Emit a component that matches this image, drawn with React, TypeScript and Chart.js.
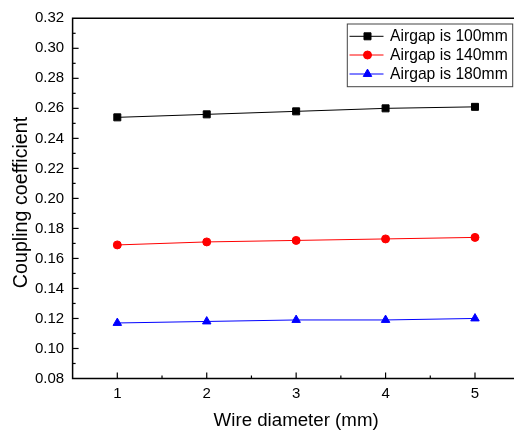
import React, { useEffect, useRef } from 'react';
import { Chart, registerables } from 'chart.js';

Chart.register(...registerables);

const categories = ['1', '2', '3', '4', '5'];
const airgap100 = [0.254, 0.256, 0.258, 0.26, 0.261];
const airgap140 = [0.169, 0.171, 0.172, 0.173, 0.174];
const airgap180 = [0.117, 0.118, 0.119, 0.119, 0.12];
const seriesLabels = ['Airgap is 100mm', 'Airgap is 140mm', 'Airgap is 180mm'];
const seriesColors = ['#000000', '#ff0000', '#0000ff'];
const seriesShapes = ['rect', 'circle', 'triangle'];
const seriesRadius = [4.95, 4, 4.9];
const yMin = 0.08;
const yMax = 0.32;
const yStep = 0.02;
const xTitle = 'Wire diameter (mm)';
const yTitle = 'Coupling coefficient';

const FONT = '"Liberation Sans", Arial, sans-serif';
const CW = 530;
const CH = 432;

function drawMarker(ctx: CanvasRenderingContext2D, shape: string, x: number, y: number, r: number, color: string) {
  ctx.save();
  ctx.fillStyle = color;
  ctx.strokeStyle = color;
  ctx.lineWidth = 1;
  ctx.beginPath();
  if (shape === 'rect') {
    const s = r * Math.SQRT1_2;
    ctx.rect(x - s, y - s, 2 * s, 2 * s);
  } else if (shape === 'circle') {
    ctx.arc(x, y, r, 0, Math.PI * 2);
  } else {
    ctx.moveTo(x, y - r);
    ctx.lineTo(x + Math.sin(Math.PI * 2 / 3) * r, y + r / 2);
    ctx.lineTo(x - Math.sin(Math.PI * 2 / 3) * r, y + r / 2);
    ctx.closePath();
  }
  ctx.fill();
  ctx.stroke();
  ctx.restore();
}

const framePlugin = {
  id: 'frame',
  afterDraw(chart: any) {
    const ctx: CanvasRenderingContext2D = chart.ctx;
    const { left, top, right, bottom } = chart.chartArea;
    const xs = chart.scales.x;
    const ys = chart.scales.y;
    ctx.save();
    ctx.strokeStyle = '#000';
    ctx.lineWidth = 1.5;
    ctx.beginPath();
    ctx.moveTo(CW, top);
    ctx.lineTo(left, top);
    ctx.lineTo(left, bottom);
    ctx.lineTo(CW, bottom);
    ctx.stroke();

    // y ticks (inward)
    ctx.lineWidth = 1.2;
    const n = Math.round((yMax - yMin) / (yStep / 2));
    for (let i = 1; i < n; i++) {
      const v = yMin + (i * yStep) / 2;
      const py = ys.getPixelForValue(v);
      const len = i % 2 === 0 ? 6 : 3;
      ctx.beginPath();
      ctx.moveTo(left, py);
      ctx.lineTo(left + len, py);
      ctx.stroke();
    }
    // x ticks (inward)
    for (let i = 0; i < categories.length; i++) {
      const px = xs.getPixelForValue(i);
      ctx.beginPath();
      ctx.moveTo(px, bottom);
      ctx.lineTo(px, bottom - 6);
      ctx.stroke();
      if (i < categories.length - 1) {
        const pm = (px + xs.getPixelForValue(i + 1)) / 2;
        ctx.beginPath();
        ctx.moveTo(pm, bottom);
        ctx.lineTo(pm, bottom - 3);
        ctx.stroke();
      }
    }

    // titles
    ctx.fillStyle = '#000';
    ctx.textAlign = 'center';
    ctx.textBaseline = 'middle';
    ctx.font = `18.7px ${FONT}`;
    ctx.fillText(xTitle, (left + right) / 2, 421);
    ctx.save();
    ctx.translate(21.5, 202.5);
    ctx.rotate(-Math.PI / 2);
    ctx.font = `19.7px ${FONT}`;
    ctx.fillText(yTitle, 0, 0);
    ctx.restore();

    // legend
    const bx = 347.3, by = 24, bw = 165.4, bh = 62.7;
    ctx.fillStyle = '#fff';
    ctx.fillRect(bx, by, bw, bh);
    ctx.strokeStyle = '#444';
    ctx.lineWidth = 1;
    ctx.strokeRect(bx, by, bw, bh);
    const rowsY = [36.3, 55, 74];
    chart.data.datasets.forEach((ds: any, i: number) => {
      const y = rowsY[i];
      ctx.strokeStyle = seriesColors[i];
      ctx.lineWidth = 1;
      ctx.beginPath();
      ctx.moveTo(349.5, y);
      ctx.lineTo(383.5, y);
      ctx.stroke();
      drawMarker(ctx, seriesShapes[i], 367.5, y, seriesRadius[i], seriesColors[i]);
      ctx.fillStyle = '#000';
      ctx.textAlign = 'left';
      ctx.textBaseline = 'middle';
      ctx.font = `15.7px ${FONT}`;
      ctx.fillText(ds.label, 390, y + 0.5);
    });
    ctx.restore();
  },
};

export default function App() {
  const ref = useRef<HTMLCanvasElement>(null);
  useEffect(() => {
    if (!ref.current) return;
    const series = [airgap100, airgap140, airgap180];
    const chart = new Chart(ref.current, {
      type: 'line',
      data: {
        labels: categories,
        datasets: series.map((d, i) => ({
          label: seriesLabels[i],
          data: d,
          borderColor: seriesColors[i],
          backgroundColor: seriesColors[i],
          borderWidth: 1,
          pointStyle: seriesShapes[i] as any,
          pointRadius: seriesRadius[i],
          pointBorderWidth: 1,
          pointBackgroundColor: seriesColors[i],
          pointBorderColor: seriesColors[i],
          tension: 0,
          fill: false,
        })),
      },
      options: {
        responsive: false,
        animation: false,
        devicePixelRatio: 1,
        layout: { padding: { top: 18.3, right: CW - 519.7, left: 0, bottom: 0 } },
        plugins: { legend: { display: false }, tooltip: { enabled: false }, title: { display: false } },
        scales: {
          x: {
            type: 'category',
            offset: true,
            grid: { display: false, drawTicks: false },
            border: { display: false },
            ticks: { color: '#000', font: { family: FONT, size: 15 }, padding: 6, maxRotation: 0 },
            afterFit: (s: any) => { s.height = CH - 378.5; },
          },
          y: {
            min: yMin,
            max: yMax,
            grid: { display: false, drawTicks: false },
            border: { display: false },
            ticks: {
              stepSize: yStep,
              color: '#000',
              font: { family: FONT, size: 15 },
              padding: 8.5,
              callback: (v: any) => Number(v).toFixed(2),
            },
            afterFit: (s: any) => { s.width = 72.6; },
          },
        },
      },
      plugins: [framePlugin],
    });
    return () => chart.destroy();
  }, []);
  return (
    <div style={{ position: 'fixed', left: 0, top: 0, width: 514, height: 432, overflow: 'hidden', background: '#fff' }}>
      <canvas ref={ref} width={CW} height={CH} style={{ display: 'block', width: CW, height: CH }} />
    </div>
  );
}
